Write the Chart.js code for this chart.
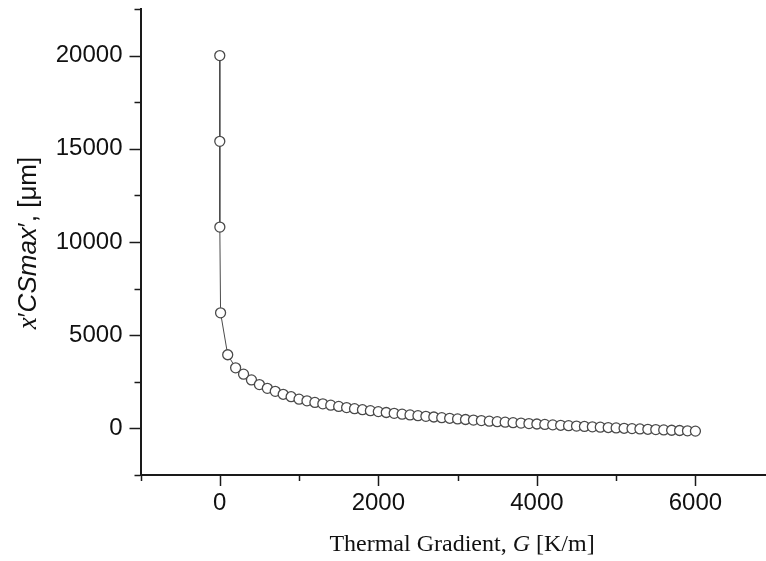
<!DOCTYPE html>
<html>
<head>
<meta charset="utf-8">
<script src="https://cdn.jsdelivr.net/npm/chart.js@4.4.1/dist/chart.umd.min.js"></script>
<style>
  html, body { margin: 0; padding: 0; background: #fff; overflow: hidden; }
  #wrap { width: 766px; height: 561px; overflow: hidden; }
</style>
</head>
<body>
<div id="wrap"><canvas id="c" width="781" height="561"></canvas></div>
<script>
// thermal gradient G [K/m] (first four sit practically on G = 0)
const gradient = [
  0.01, 0.1, 1, 10,
  100, 200, 300, 400, 500, 600, 700, 800, 900, 1000,
  1100, 1200, 1300, 1400, 1500, 1600, 1700, 1800, 1900, 2000,
  2100, 2200, 2300, 2400, 2500, 2600, 2700, 2800, 2900, 3000,
  3100, 3200, 3300, 3400, 3500, 3600, 3700, 3800, 3900, 4000,
  4100, 4200, 4300, 4400, 4500, 4600, 4700, 4800, 4900, 5000,
  5100, 5200, 5300, 5400, 5500, 5600, 5700, 5800, 5900, 6000,
];
// x'CSmax [um]
const xcsmax = [
  20000, 15400, 10800, 6200,
  3950, 3250, 2910, 2600, 2350, 2150, 1990, 1830, 1700, 1570,
  1478, 1394, 1316, 1245, 1178, 1115, 1057, 1002, 951, 900,
  853, 808, 765, 724, 685, 647, 611, 576, 542, 510,
  478, 448, 418, 390, 362, 335, 309, 284, 259, 235,
  212, 189, 167, 146, 125, 104, 84, 65, 46, 27,
  6, -12, -30, -48, -65, -82, -98, -114, -130, -146,
];

const X_MIN = -1000, X_MAX = 7000, X_STEP = 1000, X_LABEL_EVERY = 2000;
const Y_MIN = -2500, Y_MAX = 22500, Y_STEP = 2500, Y_LABEL_EVERY = 5000;

const AXIS_COLOR = '#1a1a1a';
const MARK_COLOR = '#4a4a4a';
const TICK_FONT = { family: 'Liberation Sans, Arial, sans-serif', size: 24 };

// outward tick marks, long on labelled values and short in between
const tickMarks = {
  id: 'tickMarks',
  afterDraw(chart) {
    const { ctx, chartArea, scales } = chart;
    ctx.save();
    ctx.strokeStyle = AXIS_COLOR;
    ctx.lineWidth = 1.5;
    scales.x.ticks.forEach((t) => {
      const px = Math.round(scales.x.getPixelForValue(t.value)) + 0.5;
      const len = t.value % X_LABEL_EVERY === 0 ? 11 : 6;
      ctx.beginPath();
      ctx.moveTo(px, chartArea.bottom);
      ctx.lineTo(px, chartArea.bottom + len);
      ctx.stroke();
    });
    scales.y.ticks.forEach((t) => {
      const py = Math.round(scales.y.getPixelForValue(t.value)) + 0.5;
      const len = t.value % Y_LABEL_EVERY === 0 ? 11 : 6;
      ctx.beginPath();
      ctx.moveTo(chartArea.left, py);
      ctx.lineTo(chartArea.left - len, py);
      ctx.stroke();
    });
    ctx.restore();
  },
};

// axis titles with mixed italic / upright runs
function drawRuns(ctx, runs, x, y) {
  let total = 0;
  runs.forEach((r) => { ctx.font = r.font; total += ctx.measureText(r.text).width; });
  let cx = x - total / 2;
  runs.forEach((r) => {
    ctx.font = r.font;
    ctx.fillText(r.text, cx, y);
    cx += ctx.measureText(r.text).width;
  });
}

const axisTitles = {
  id: 'axisTitles',
  afterDraw(chart) {
    const { ctx } = chart;
    ctx.save();
    ctx.fillStyle = '#111';
    ctx.textBaseline = 'alphabetic';
    const serif = '"Liberation Serif", "Times New Roman", serif';
    const sans = '"Liberation Sans", Arial, sans-serif';
    drawRuns(ctx, [
      { text: 'Thermal Gradient, ', font: `24px ${serif}` },
      { text: 'G', font: `italic 24px ${serif}` },
      { text: ' [K/m]', font: `24px ${serif}` },
    ], 462, 551);
    ctx.translate(36, 243);
    ctx.rotate(-Math.PI / 2);
    drawRuns(ctx, [
      { text: 'x', font: `italic 27px ${serif}` },
      { text: '\u2032', font: `26px ${sans}` },
      { text: 'CSmax', font: `italic 26px ${sans}` },
      { text: '\u2032', font: `26px ${sans}` },
      { text: ', [\u03bcm]', font: `26px ${sans}` },
    ], 0, 0);
    ctx.restore();
  },
};

new Chart(document.getElementById('c'), {
  type: 'line',
  data: {
    datasets: [{
      data: gradient.map((g, i) => ({ x: g, y: xcsmax[i] })),
      borderColor: MARK_COLOR,
      borderWidth: 1,
      backgroundColor: '#ffffff',
      pointBackgroundColor: '#ffffff',
      pointBorderColor: MARK_COLOR,
      pointBorderWidth: 1.3,
      pointRadius: 5,
      tension: 0,
    }],
  },
  options: {
    responsive: false,
    animation: false,
    events: [],
    layout: { padding: { top: 9, left: 0, right: 0, bottom: 0 } },
    plugins: { legend: { display: false }, tooltip: { enabled: false } },
    scales: {
      x: {
        type: 'linear',
        min: X_MIN,
        max: X_MAX,
        afterFit: (s) => { s.height = 86; s.paddingLeft = 0; s.paddingRight = 0; },
        grid: { display: false },
        border: { display: true, color: AXIS_COLOR, width: 2 },
        ticks: {
          stepSize: X_STEP,
          autoSkip: false,
          maxRotation: 0,
          padding: 6,
          color: '#111',
          font: TICK_FONT,
          callback: (v) => (v % X_LABEL_EVERY === 0 ? String(v) : ''),
        },
      },
      y: {
        type: 'linear',
        min: Y_MIN,
        max: Y_MAX,
        afterFit: (s) => { s.width = 140.5; s.paddingTop = 0; s.paddingBottom = 0; },
        grid: { display: false },
        border: { display: true, color: AXIS_COLOR, width: 2 },
        ticks: {
          stepSize: Y_STEP,
          autoSkip: false,
          padding: 10,
          color: '#111',
          font: TICK_FONT,
          callback: (v) => (v % Y_LABEL_EVERY === 0 ? String(v) : ''),
        },
      },
    },
  },
  plugins: [tickMarks, axisTitles],
});
</script>
</body>
</html>
